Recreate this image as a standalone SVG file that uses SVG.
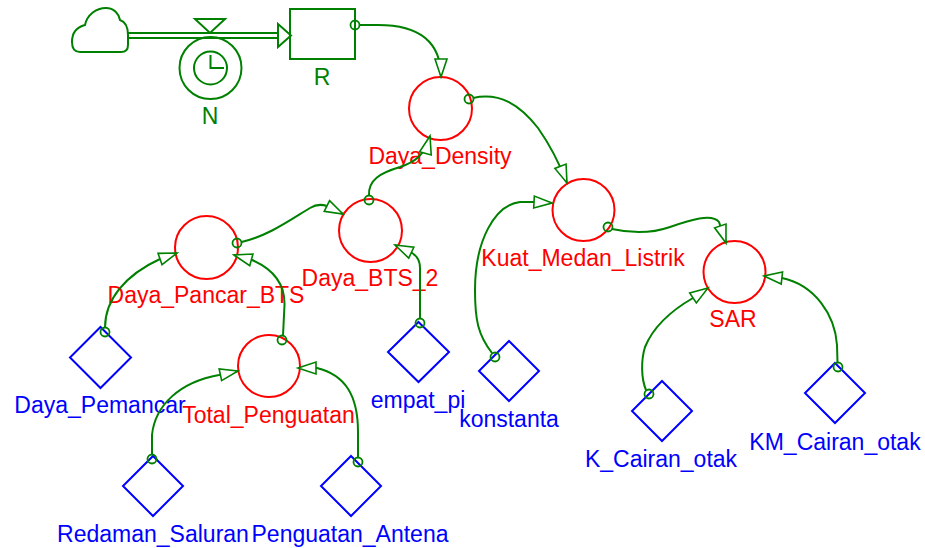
<svg xmlns="http://www.w3.org/2000/svg" width="925" height="548" viewBox="0 0 925 548">
<defs>
<style>
.g{fill:none;stroke:#008000;stroke-width:2}
.aux{fill:#fff;stroke:#ff0000;stroke-width:2}
.con{fill:#fff;stroke:#0000ff;stroke-width:2}
.lnk{fill:none;stroke:#008000;stroke-width:2;marker-end:url(#ah)}
.org{fill:none;stroke:#008000;stroke-width:1.8}
text{font-family:"Liberation Sans",Arial,sans-serif;font-size:23px;text-anchor:middle}
.tr{fill:#ff0000}.tb{fill:#0000ff}.tg{fill:#008000}
</style>
<marker id="ah" markerUnits="userSpaceOnUse" markerWidth="24" markerHeight="20" viewBox="-20 -10 24 20" refX="0" refY="0" orient="auto">
<path d="M0,0 L-18,-6 L-18,6 Z" fill="#fff" stroke="#008000" stroke-width="1.6"/>
</marker>
</defs>
<g id="cloud">
<path class="g" d="M80,52 C74,52 72,48 72,42 C72,33 77,27 85,25 C87,15 96,8 106,8 C114,8 119,14 120,20 C126,22 128,28 128,35 L128,45 C128,50 125,52 121,52 Z"/>
</g>
<g id="flow_N">
<line x1="128" y1="33" x2="279" y2="33" stroke="#008000" stroke-width="2"/>
<line x1="128" y1="38" x2="279" y2="38" stroke="#008000" stroke-width="2"/>
<path d="M278,24 L291,35.5 L278,47 Z" fill="#fff" stroke="#008000" stroke-width="2"/>
<path class="g" d="M195,19 L225,19 L210,33 Z"/>
<circle class="g" cx="210.5" cy="68" r="31"/>
<circle class="g" cx="210.5" cy="68" r="16.5"/>
<path class="g" d="M210.5,55 L210.5,68 L224,68"/>
<text class="tg" x="210" y="124">N</text>
</g>
<g id="R">
<rect class="g" x="290" y="9" width="65" height="50"/>
<text class="tg" x="322" y="85">R</text>
</g>
<g id="Daya_Density">
<circle class="aux" cx="440.5" cy="108.5" r="31.5"/>
<text class="tr" x="440" y="164">Daya_Density</text>
</g>
<g id="Kuat_Medan_Listrik">
<circle class="aux" cx="583.5" cy="210" r="31"/>
<text class="tr" x="583" y="266">Kuat_Medan_Listrik</text>
</g>
<g id="SAR">
<circle class="aux" cx="734.5" cy="272" r="31"/>
<text class="tr" x="733" y="327">SAR</text>
</g>
<g id="Daya_BTS_2">
<circle class="aux" cx="370.5" cy="230.5" r="31.5"/>
<text class="tr" x="370" y="286">Daya_BTS_2</text>
</g>
<g id="Daya_Pancar_BTS">
<circle class="aux" cx="206.5" cy="247.5" r="31.5"/>
<text class="tr" x="206" y="303">Daya_Pancar_BTS</text>
</g>
<g id="Total_Penguatan">
<circle class="aux" cx="269" cy="366" r="31"/>
<text class="tr" x="268.5" y="423">Total_Penguatan</text>
</g>
<g id="Daya_Pemancar">
<path class="con" d="M100.5,327 L131,357.5 L100.5,388 L70,357.5 Z"/>
<text class="tb" x="100" y="413">Daya_Pemancar</text>
</g>
<g id="empat_pi">
<path class="con" d="M418.5,322 L449,352 L418.5,382 L388,352 Z"/>
<text class="tb" x="418" y="408">empat_pi</text>
</g>
<g id="Redaman_Saluran">
<path class="con" d="M153,456 L183,486 L153,516 L123,486 Z"/>
<text class="tb" x="153" y="542">Redaman_Saluran</text>
</g>
<g id="Penguatan_Antena">
<path class="con" d="M351,456 L381,486 L351,516 L321,486 Z"/>
<text class="tb" x="350" y="542">Penguatan_Antena</text>
</g>
<g id="konstanta">
<path class="con" d="M509,341 L539,371 L509,401 L479,371 Z"/>
<text class="tb" x="509" y="427">konstanta</text>
</g>
<g id="K_Cairan_otak">
<path class="con" d="M662,381 L692,411 L662,441 L632,411 Z"/>
<text class="tb" x="661" y="467">K_Cairan_otak</text>
</g>
<g id="KM_Cairan_otak">
<path class="con" d="M835,363 L865,393 L835,423 L805,393 Z"/>
<text class="tb" x="835" y="450">KM_Cairan_otak</text>
</g>
<g id="connectors">
<path class="lnk" d="M359.5,25 L378,25 C415,25 441,38 441,77"/>
<circle class="org" cx="355" cy="25" r="4.5"/>
<path class="lnk" d="M473,98 C500,92 520,105 538,128 C550,145 560,165 567,183"/>
<circle class="org" cx="469" cy="99" r="4.5"/>
<path class="lnk" d="M369,195.5 C368,180 380,173 400,167 C415,162 425,155 430,136"/>
<circle class="org" cx="369" cy="200" r="4.5"/>
<path class="lnk" d="M241.5,242 C268,236 290,220 310,208 Q318,203 327,206 L343,214"/>
<circle class="org" cx="237" cy="243" r="4.5"/>
<path class="lnk" d="M283,335.5 L284.5,305 C285,285 275,270 252,260 L234,255"/>
<circle class="org" cx="282" cy="340" r="4.5"/>
<path class="lnk" d="M420,318.5 L420,268 C420,260 417,256 412,253 L395,245"/>
<circle class="org" cx="420" cy="323" r="4.5"/>
<path class="lnk" d="M105,327.5 C105,300 125,275 160,259 L177,253"/>
<circle class="org" cx="105" cy="332" r="4.5"/>
<path class="lnk" d="M152,454.5 L152,435 C155,405 180,382 219,375 L238,371"/>
<circle class="org" cx="152" cy="459" r="4.5"/>
<path class="lnk" d="M358,457.5 L358,432 C358,395 345,375 317,368 L298,368"/>
<circle class="org" cx="358" cy="462" r="4.5"/>
<path class="lnk" d="M492,353 C478,335 475,320 475,290 C475,240 495,205 520,202 L533,202 L552,203"/>
<circle class="org" cx="495" cy="357" r="4.5"/>
<path class="lnk" d="M612,229 C630,233 650,234 670,227 C690,220 712,213 719,222 L726,243"/>
<circle class="org" cx="608" cy="227" r="4.5"/>
<path class="lnk" d="M646,390 C641,378 641,360 645,347 C652,330 667,313 693,298 L708,288"/>
<circle class="org" cx="649" cy="394" r="4.5"/>
<path class="lnk" d="M837.5,362.5 L837,345 C835,315 815,285 782,278 L764,276"/>
<circle class="org" cx="838" cy="367" r="4.5"/>
</g>
</svg>
